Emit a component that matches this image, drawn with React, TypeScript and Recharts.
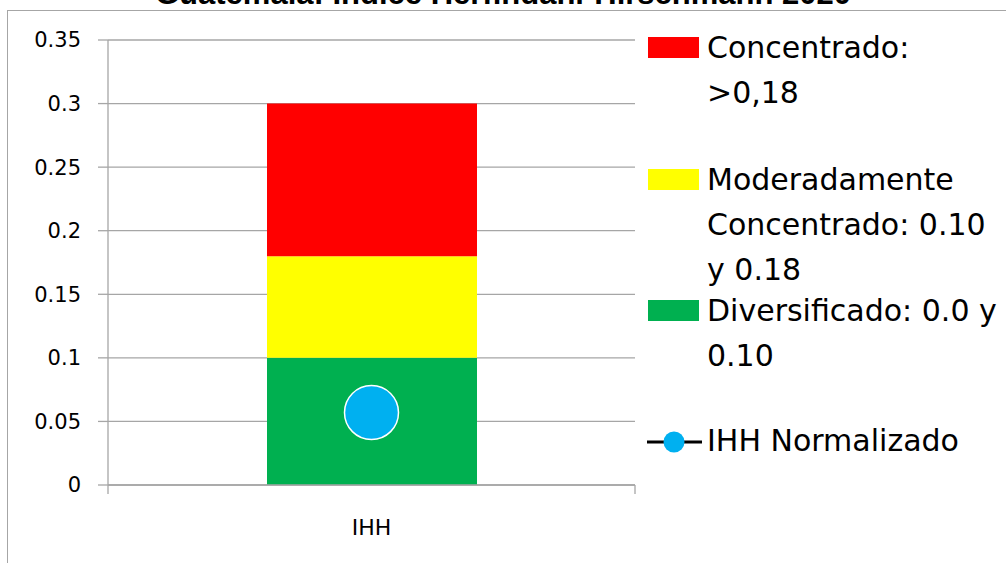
import { ComposedChart, Bar, Line, XAxis, YAxis, CartesianGrid, Legend } from 'recharts'

const categories = ['IHH']
const diversificado = [0.1]
const moderado = [0.08]
const concentrado = [0.12]
const ihhNormalizado = [0.057]
const yTicks = [0, 0.05, 0.1, 0.15, 0.2, 0.25, 0.3, 0.35]

const title = 'Guatemala: Índice Herfindahl-Hirschmann 2020'
const seriesLabels = {
  concentrado: 'Concentrado:\n>0,18',
  moderado: 'Moderadamente\nConcentrado: 0.10\ny 0.18',
  diversificado: 'Diversificado: 0.0 y\n0.10',
  ihh: 'IHH Normalizado',
}

const RED = '#FF0000'
const YELLOW = '#FFFF00'
const GREEN = '#00B050'
const BLUE = '#00B0F0'
const GRID = '#A6A6A6'

const X_TICK_GAP = 34

const chartData = categories.map((name, i) => ({
  name,
  diversificado: diversificado[i],
  moderado: moderado[i],
  concentrado: concentrado[i],
  ihh: ihhNormalizado[i],
}))

const legendItems = [
  { key: 'concentrado', color: RED, top: 25 },
  { key: 'moderado', color: YELLOW, top: 157 },
  { key: 'diversificado', color: GREEN, top: 288 },
  { key: 'ihh', color: BLUE, top: 418, line: true },
]

// category label plus Excel-style tick marks on the band edges
function CategoryTick(props: any) {
  const { x, y, width, index, payload } = props
  const band = width / categories.length
  const axisY = y - X_TICK_GAP
  const left = x - band / 2
  const right = x + band / 2
  return (
    <g>
      <line x1={left} y1={axisY} x2={left} y2={axisY + 9} stroke={GRID} strokeWidth={1.3} />
      {index === categories.length - 1 && (
        <line x1={right} y1={axisY} x2={right} y2={axisY + 9} stroke={GRID} strokeWidth={1.3} />
      )}
      <text x={x} y={y} dy="0.71em" textAnchor="middle" fill="#000" fontFamily="DejaVu Sans" fontSize={22}>
        {payload.value}
      </text>
    </g>
  )
}

function LegendBox() {
  return (
    <div style={{ position: 'relative', width: 366, height: 500 }}>
      {legendItems.map((item) => (
        <div key={item.key} style={{ position: 'absolute', left: 0, top: item.top }}>
          {item.line ? (
            <svg width={58} height={24} style={{ position: 'absolute', left: 6, top: 11 }}>
              <line x1={1} y1={13} x2={56} y2={13} stroke="#000" strokeWidth={3} />
              <circle cx={28} cy={13} r={10.5} fill={item.color} />
            </svg>
          ) : (
            <div
              style={{
                position: 'absolute',
                left: 8,
                top: 11.5,
                width: 51,
                height: 21,
                background: item.color,
              }}
            />
          )}
          <div
            style={{
              position: 'absolute',
              left: 67,
              top: 0,
              whiteSpace: 'pre',
              fontFamily: 'DejaVu Sans',
              fontSize: 30,
              lineHeight: '45px',
              color: '#000',
            }}
          >
            {seriesLabels[item.key as keyof typeof seriesLabels]}
          </div>
        </div>
      ))}
    </div>
  )
}

export default function App() {
  return (
    <div
      style={{
        position: 'absolute',
        left: 0,
        top: 0,
        width: 1006,
        height: 563,
        overflow: 'hidden',
        background: '#fff',
      }}
    >
      <div
        style={{
          position: 'absolute',
          left: 7,
          top: 10,
          width: 1100,
          height: 700,
          border: `1px solid ${GRID}`,
        }}
      />
      <div
        style={{
          position: 'absolute',
          left: 0,
          width: 1006,
          top: -22,
          textAlign: 'center',
          fontFamily: 'Liberation Sans',
          fontWeight: 'bold',
          fontSize: 31,
          lineHeight: '31px',
          color: '#000',
          whiteSpace: 'nowrap',
        }}
      >
        {title}
      </div>
      <div style={{ position: 'absolute', left: 0, top: 0 }}>
        <ComposedChart
          width={1006}
          height={563}
          data={chartData}
          margin={{ top: 40, right: 371, left: 8, bottom: 28 }}
        >
          <CartesianGrid vertical={false} stroke={GRID} strokeWidth={1.3} />
          <XAxis
            dataKey="name"
            height={50}
            tickLine={false}
            tickSize={6}
            tickMargin={X_TICK_GAP - 6}
            stroke={GRID}
            strokeWidth={1.3}
            tick={<CategoryTick />}
          />
          <YAxis
            width={100}
            domain={[0, 0.35]}
            ticks={yTicks}
            tickSize={10}
            tickMargin={17}
            stroke={GRID}
            strokeWidth={1.3}
            tick={{ fill: '#000', fontFamily: 'DejaVu Sans', fontSize: 21 }}
          />
          <Bar dataKey="diversificado" stackId="a" fill={GREEN} barSize={210} isAnimationActive={false} />
          <Bar dataKey="moderado" stackId="a" fill={YELLOW} barSize={210} isAnimationActive={false} />
          <Bar dataKey="concentrado" stackId="a" fill={RED} barSize={210} isAnimationActive={false} />
          <Line
            dataKey="ihh"
            stroke="#000"
            strokeWidth={3}
            dot={{ r: 27, fill: BLUE, stroke: '#fff', strokeWidth: 1.5 }}
            activeDot={false}
            isAnimationActive={false}
          />
          <Legend
            layout="vertical"
            align="center"
            verticalAlign="middle"
            wrapperStyle={{ left: 640, top: 0, width: 366, height: 500 }}
            content={() => <LegendBox />}
          />
        </ComposedChart>
      </div>
    </div>
  )
}
